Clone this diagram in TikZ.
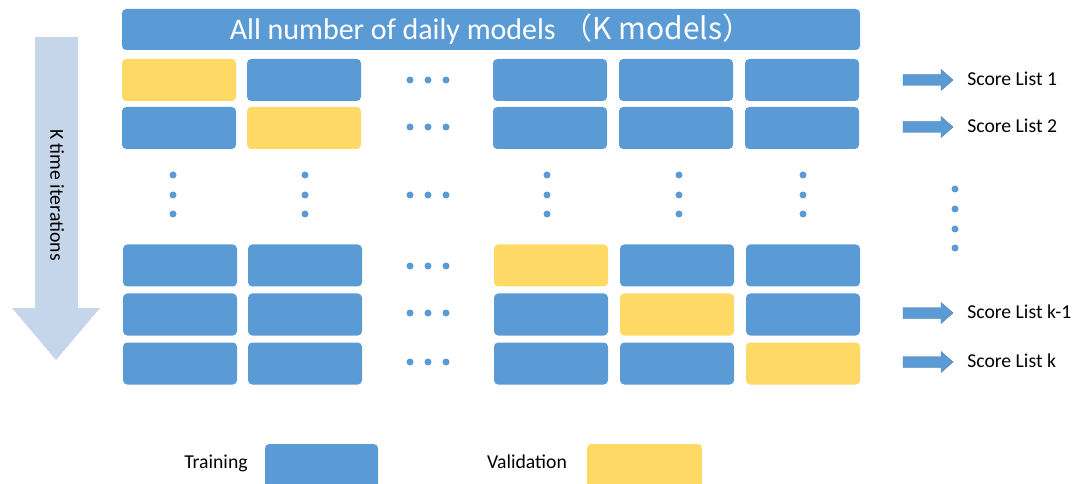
\documentclass[tikz,border=0pt]{standalone}
\usepackage{fontspec}
\setmainfont{Carlito}
\newfontfamily\cjk{Noto Sans CJK SC}
\definecolor{trainblue}{HTML}{5B9BD5}
\definecolor{validyellow}{HTML}{FFD966}
\definecolor{iterblue}{HTML}{C5D5EA}
\tikzset{
  trainbox/.style={fill=trainblue, rounded corners=3pt, minimum width=114*0.025cm, minimum height=42*0.025cm, inner sep=0pt},
  validbox/.style={trainbox, fill=validyellow},
  blob/.style={circle, fill=trainblue, inner sep=0pt, minimum size=7*0.025cm},
  label/.style={font=\fontsize{14}{16}\selectfont, inner sep=0pt},
}
\begin{document}
\begin{tikzpicture}[x=0.025cm, y=-0.025cm]
	\useasboundingbox (0,0) rectangle (1082,484);

	% title bar
	\node[trainbox, minimum width=738*0.025cm, minimum height=41*0.025cm, text=white, font=\fontsize{21.3}{24}\selectfont] at (491,29.5) (all) {All number of daily models \cjk{（}K models\cjk{）}};

	% K iterations arrow
	\fill[iterblue] (35,37) -- (78,37) -- (78,308) -- (100,308) -- (56,360) -- (12,308) -- (35,308) -- cycle;
	\node[label, rotate=-90] at (57,195) (iter) {K time iterations};

	\draw
	node[validbox] at (179,80) (r1c1) {}
	node[trainbox] at (304,80) (r1c2) {}
	node[trainbox] at (550,80) (r1c4) {}
	node[trainbox] at (676,80) (r1c5) {}
	node[trainbox] at (802,80) (r1c6) {}

	node[trainbox] at (179,128) (r2c1) {}
	node[validbox] at (304,128) (r2c2) {}
	node[trainbox] at (550,128) (r2c4) {}
	node[trainbox] at (676,128) (r2c5) {}
	node[trainbox] at (802,128) (r2c6) {}

	node[trainbox] at (180,265.5) (r3c1) {}
	node[trainbox] at (305,265.5) (r3c2) {}
	node[validbox] at (551,265.5) (r3c4) {}
	node[trainbox] at (677,265.5) (r3c5) {}
	node[trainbox] at (803,265.5) (r3c6) {}

	node[trainbox] at (180,314.5) (r4c1) {}
	node[trainbox] at (305,314.5) (r4c2) {}
	node[trainbox] at (551,314.5) (r4c4) {}
	node[validbox] at (677,314.5) (r4c5) {}
	node[trainbox] at (803,314.5) (r4c6) {}

	node[trainbox] at (180,363.5) (r5c1) {}
	node[trainbox] at (305,363.5) (r5c2) {}
	node[trainbox] at (551,363.5) (r5c4) {}
	node[trainbox] at (677,363.5) (r5c5) {}
	node[validbox] at (803,363.5) (r5c6) {}
	;

	% dots
	\foreach \y in {80,127,195,266,313,362}
		\foreach \x in {410,428,446}
			\node[blob] at (\x,\y) {};
	\foreach \x in {173,305,547,679,803}
		\foreach \y in {175,195,214}
			\node[blob] at (\x,\y) {};
	\foreach \y in {189,209,229,248}
		\node[blob] at (955,\y) {};

	% score lists
	\foreach \y/\name/\txt in {80/s1/Score List 1, 127/s2/Score List 2, 313/sk1/Score List k-1, 362/sk/Score List k}{
		\filldraw[trainblue, draw=trainblue!80!black, line width=0.3pt]
			(903,\y-5.5) -- (941,\y-5.5) -- (941,\y-10.5) -- (953,\y) -- (941,\y+10.5) -- (941,\y+5.5) -- (903,\y+5.5) -- cycle;
		\node[label, anchor=west] at (967,\y-1) (\name) {\txt};
	}

	% legend
	\node[label] at (216,463) (train) {Training};
	\node[trainbox, minimum width=113*0.025cm, minimum height=48*0.025cm] at (321.5,468) (trainkey) {};
	\node[label] at (527,462) (valid) {Validation};
	\node[validbox, minimum width=115*0.025cm, minimum height=48*0.025cm] at (644.5,468) (validkey) {};
\end{tikzpicture}
\end{document}
